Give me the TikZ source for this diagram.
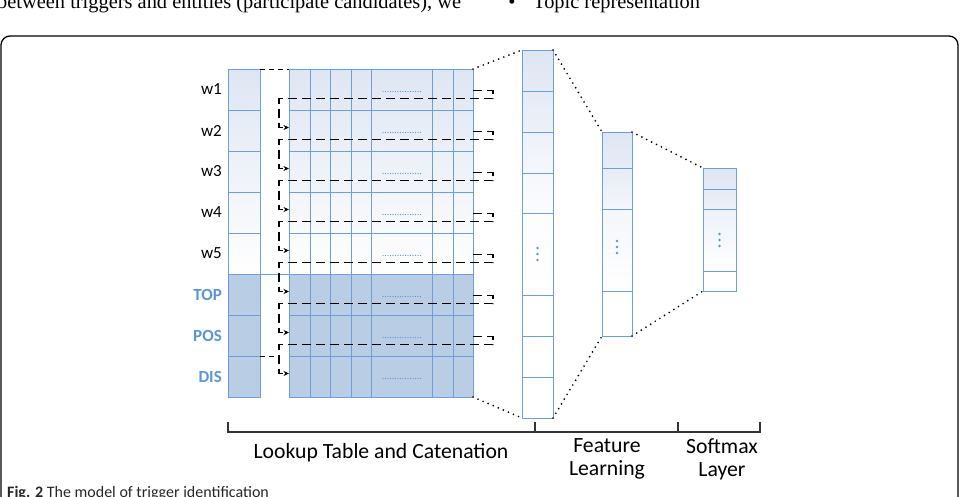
\documentclass[tikz,border=0pt]{standalone}
\usepackage{fontspec}
\setmainfont{Carlito}
\newfontfamily\pagefont{Liberation Serif}
\usetikzlibrary{arrows.meta,calc}

\definecolor{cellblue}{RGB}{110,158,212}
\definecolor{darkfill}{RGB}{185,205,229}
\definecolor{palefill}{RGB}{222,230,243}
\definecolor{tagblue}{RGB}{91,150,210}

\tikzset{
  cell/.style = {draw=cellblue, line width=1pt, anchor=north west, inner sep=0pt, outer sep=0pt},
  wcell/.style = {cell, minimum width=32pt, minimum height=41pt},
  mrow/.style = {cell, minimum width=184pt, minimum height=41pt},
  word/.style = {anchor=east, inner sep=0pt, font=\fontsize{17}{18}\selectfont},
  tag/.style = {word, text=tagblue, font=\fontsize{17}{18}\selectfont\bfseries},
  link/.style = {draw=black, line width=1.6pt, dash pattern=on 9pt off 5pt},
  shortlink/.style = {draw=black, line width=1pt, dash pattern=on 5pt off 4pt},
  fan/.style = {draw=black, line width=1.9pt, line cap=round, dash pattern=on 0pt off 5.5pt},
  dotrow/.style = {draw=tagblue, line width=1.2pt, line cap=round, dash pattern=on 0pt off 2.5pt},
  stage/.style = {align=center, inner sep=0pt, font=\fontsize{21.7}{23}\selectfont},
  pagetext/.style = {anchor=base west, inner sep=0pt, font=\pagefont\fontsize{20.4}{21}\selectfont},
  bar/.style = {draw=black!80, line width=1.3pt}
}

\begin{document}
\begin{tikzpicture}[x=1pt,y=-1pt]
\useasboundingbox (0,0) rectangle (963,496);
\clip (0,0) rectangle (963,496);

% text of the page around the figure
\node[pagetext] (prev) at (-3,8) {between triggers and entities (participate candidates), we};
\node[pagetext, anchor=base] (bul) at (512,8) {\textbullet};
\node[pagetext] (topic) at (533,8) {Topic representation};
\draw[line width=1.3pt, rounded corners=9pt] (1,36) rectangle (958,540);

% word column and lookup rows
\foreach \i in {1,...,8}{
  \pgfmathtruncatemacro\shA{max(100-20*(\i-1),0)}
  \pgfmathtruncatemacro\shB{max(100-20*\i,0)}
  \ifnum\i>5
    \node[wcell, fill=darkfill] (wv\i) at (228,{69+41*(\i-1)}) {};
    \node[mrow, fill=darkfill] (row\i) at (289,{69+41*(\i-1)}) {};
  \else
    \node[wcell, top color=palefill!\shA!white, bottom color=palefill!\shB!white] (wv\i) at (228,{69+41*(\i-1)}) {};
    \node[mrow, top color=palefill!\shA!white, bottom color=palefill!\shB!white] (row\i) at (289,{69+41*(\i-1)}) {};
  \fi
}
\foreach \dx in {21,41,62,82,143,164}
  \draw[cellblue, line width=1pt] ([xshift=\dx pt]row1.north west) -- ([xshift=\dx pt]row8.south west);
\foreach \i in {1,...,8}
  \draw[dotrow] ([xshift=94pt,yshift=-2pt]row\i.west) -- ++(38,0);
\draw[cellblue, line width=1pt] (wv6.north east) -- (row6.north west);

% labels
\foreach \lbl [count=\i] in {w1,w2,w3,w4,w5}
  \node[word] (lw\i) at ($(wv\i.west)+(-6,0)$) {\lbl};
\node[tag] (ltop) at ($(wv6.west)+(-6,0)$) {TOP};
\node[tag] (lpos) at ($(wv7.west)+(-6,0)$) {POS};
\node[tag] (ldis) at ($(wv8.west)+(-6,0)$) {DIS};

% shifting links
\coordinate (wend) at ([xshift=-10pt]row8.north west);
\draw[shortlink] (wv1.north east) -- (row1.north west);
\draw[shortlink] (wv8.north east) -- (wend);
\foreach \i in {1,...,7}{
  \pgfmathtruncatemacro\j{\i+1}
  \draw[link, -{Stealth[length=5.5pt,width=5pt]}] ([yshift=-1pt]row\i.east) -- ++(20,0) -- ++(0,8)
    -| ([xshift=-10pt,yshift=3pt]row\j.west) -- ([yshift=3pt]row\j.west);
}

% feature learning
\foreach \t/\h/\sa/\sb [count=\k] in {50/41/100/80,91/41/80/55,132/41/55/30,173/40/30/10,213/82/10/0,295/41/0/0,336/41/0/0,377/41/0/0}
  \node[cell, minimum width=31pt, minimum height=\h pt, top color=palefill!\sa!white, bottom color=palefill!\sb!white] (feat\k) at (522,\t) {};
\foreach \t/\h/\sa/\sb [count=\k] in {132/36/100/75,168/41/75/35,209/82/35/0,291/45/0/0}
  \node[cell, minimum width=30pt, minimum height=\h pt, top color=palefill!\sa!white, bottom color=palefill!\sb!white] (hid\k) at (602,\t) {};
\foreach \t/\h/\sa/\sb [count=\k] in {168/21/100/80,189/20/80/55,209/62/55/0,271/20/0/0}
  \node[cell, minimum width=33pt, minimum height=\h pt, top color=palefill!\sa!white, bottom color=palefill!\sb!white] (soft\k) at (703,\t) {};
\foreach \d in {-6,0,6}{
  \fill[tagblue] ($(feat5.center)+(0,\d)$) circle (1.3pt);
  \fill[tagblue] ($(hid3.center)+(0,\d-3)$) circle (1.3pt);
  \fill[tagblue] ($(soft3.center)+(0,\d)$) circle (1.3pt);
}

% fan-in lines
\draw[fan] (row1.north east) -- (feat1.north west);
\draw[fan] (row8.south east) -- (feat8.south west);
\draw[fan] (feat1.north east) -- (hid1.north west);
\draw[fan] (feat8.south east) -- (hid4.south west);
\draw[fan] (hid1.north east) -- (soft1.north west);
\draw[fan] (hid4.south east) -- (soft4.south west);

% stages
\draw[bar] (228,422) -- (228,432) -- (760,432) -- (760,422);
\draw[bar] (535,422) -- (535,432);
\draw[bar] (678,422) -- (678,432);
\node[stage] (lut) at (381,453) {Lookup Table and Catenation};
\node[stage] (fl) at (607,459) {Feature\\Learning};
\node[stage] (sl) at (722,459) {Softmax\\Layer};

\node[anchor=base west, inner sep=0pt, text=black!85, font=\fontsize{16}{17}\selectfont] (cap) at (7,497) {\textbf{Fig. 2} The model of trigger identification};
\end{tikzpicture}
\end{document}
